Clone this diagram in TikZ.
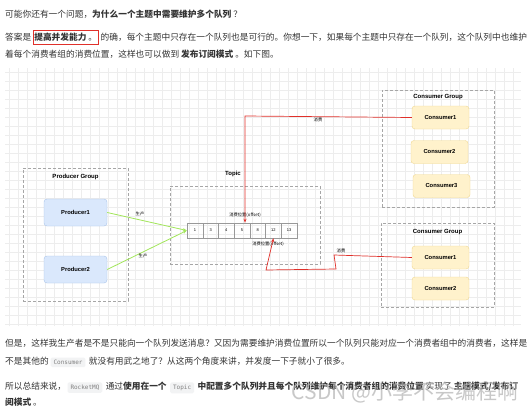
\documentclass[tikz,border=0pt]{standalone}
\usepackage{fontspec}
\setmainfont{Liberation Sans}
\newfontfamily\cjk{Noto Sans CJK SC}
\newfontfamily\codefont{DejaVu Sans Mono}
\usepackage{xcolor}
\usetikzlibrary{arrows.meta,calc,positioning}

\definecolor{txtgray}{HTML}{333333}
\definecolor{prodfill}{HTML}{DAE8FC}
\definecolor{prodline}{HTML}{A9C4EB}
\definecolor{consfill}{HTML}{FFF2CC}
\definecolor{consline}{HTML}{F0D890}
\definecolor{msgred}{HTML}{E0302A}
\definecolor{prodgreen}{HTML}{A2E65A}
\definecolor{codebg}{HTML}{F2F3F4}

\tikzset{
  txt/.style={anchor=base west, inner sep=0pt, text=txtgray,
    font=\cjk\fontsize{8.7}{10}\selectfont},
  code/.style={anchor=base west, fill=codebg, rounded corners=1.5pt,
    inner xsep=3pt, inner ysep=2.5pt, text=gray,
    font=\codefont\fontsize{6}{7}\selectfont},
  group/.style={draw=gray!70, densely dashed, line width=0.4pt,
    inner sep=0pt},
  gtitle/.style={font=\bfseries\fontsize{6}{7}\selectfont, inner sep=0pt},
  prod/.style={draw=prodline, fill=prodfill, rounded corners=3pt,
    minimum width=63pt, minimum height=27pt,
    font=\bfseries\fontsize{5.8}{7}\selectfont},
  cons/.style={draw=consline, fill=consfill, rounded corners=3pt,
    minimum width=57pt, minimum height=23pt,
    font=\bfseries\fontsize{5.8}{7}\selectfont},
  cell/.style={draw=gray!80, minimum width=15.7pt, minimum height=15pt,
    inner sep=0pt, font=\fontsize{4}{5}\selectfont},
  small/.style={font=\cjk\fontsize{4.3}{5}\selectfont, inner sep=0.5pt},
}

\begin{document}
\begin{tikzpicture}[x=1pt, y=-1pt]
    \useasboundingbox (0,0) rectangle (530,412);
    \fill [white] (0,0) rectangle (530,412);

    % text above
    \node [txt] (q1) at (5,17.5) {可能你还有一个问题，\textbf{为什么一个主题中需要维护多个队列} ？};
    \node [txt] (a1) at (5,40.5) {答案是};
    \node [txt, draw=msgred, line width=0.6pt, inner xsep=1.5pt, inner ysep=3pt]
        (a2) at ([xshift=1pt]a1.base east) {\textbf{提高并发能力} 。};
    \node [txt] (a3) at ([xshift=1.5pt]a2.base east)
        {的确，每个主题中只存在一个队列也是可行的。你想一下，如果每个主题中只存在一个队列，这个队列中也维护};
    \node [txt] (a4) at (5,57.5) {着每个消费者组的消费位置，这样也可以做到 \textbf{发布订阅模式} 。如下图。};

    % grid
    \draw [gray!14, step=9pt] (5,68) grid (521,326);

    % Producer Group
    \node [group, minimum width=105pt, minimum height=133pt] (pgroup) at (75.5,234.5) {};
    \node [gtitle, below] (ptitle) at ([yshift=-6pt]pgroup.north) {Producer Group};
    \node [prod] (p1) at (75.5,212.5) {Producer1};
    \node [prod] (p2) at (75.5,269.5) {Producer2};

    % Topic
    \node [group, minimum width=150pt, minimum height=78pt] (topic) at (245,225) {};
    \node [gtitle] (ttitle) at (233,174) {Topic};
    \foreach \v [count=\i from 0] in {1,3,4,5,8,12,13} {
        \node [cell] (c\i) at (194.9+15.71*\i, 230.5) {\v};
    }
    \node [small] (off1) at (245,215) {消费位置(offset)};
    \node [small] (off2) at (268,244) {消费位置(offset)};

    % Consumer Groups
    \node [group, minimum width=112pt, minimum height=117pt] (cgroup1) at (438,148.5) {};
    \node [gtitle, below] (ctitle1) at ([yshift=-4pt]cgroup1.north) {Consumer Group};
    \node [cons] (ca1) at (440.5,117.5) {Consumer1};
    \node [cons] (ca2) at (439.5,152) {Consumer2};
    \node [cons] (ca3) at (441.5,186) {Consumer3};

    \node [group, minimum width=113pt, minimum height=84pt] (cgroup2) at (437.5,265) {};
    \node [gtitle, below] (ctitle2) at ([yshift=-6pt]cgroup2.north) {Consumer Group};
    \node [cons] (cb1) at (440.5,257.5) {Consumer1};
    \node [cons] (cb2) at (440.5,288.5) {Consumer2};

    % produce
    \draw [prodgreen, line width=0.8pt, -{Stealth[length=4pt]}] (p1.east) -- (c0.west);
    \draw [prodgreen, line width=0.8pt, -{Stealth[length=4pt]}] (p2.east) -- (c0.west);
    \node [small] (g1) at (140,214) {生产};
    \node [small] (g2) at (143,256) {生产};

    % consume
    \coordinate (r1) at (245,116);
    \draw [msgred, line width=0.7pt, -{Stealth[length=4pt]}]
        (ca1.west) -- (r1) -- (r1 |- c3.north);
    \node [small] (m1) at (318,120) {消费};
    \coordinate (r2) at (334,255);
    \coordinate (r3) at (336,269);
    \coordinate (r4) at (266,270);
    \draw [msgred, line width=0.7pt, -{Stealth[length=4pt]}]
        (cb1.west) -- (r2) -- (r3) -- (r4) -- (c5.south);
    \node [small] (m2) at (341,251) {消费};

    % text below
    \node [txt] (b1) at (5,346.5)
        {但是，这样我生产者是不是只能向一个队列发送消息？又因为需要维护消费位置所以一个队列只能对应一个消费者组中的消费者，这样是};
    \node [txt] (b2) at (5,364.5) {不是其他的};
    \node [code] (b3) at ([xshift=1.5pt]b2.base east) {Consumer};
    \node [txt] (b4) at ([xshift=3pt]b3.base east) {就没有用武之地了？从这两个角度来讲，并发度一下子就小了很多。};

    \node [txt] (s1) at (5,389.5) {所以总结来说，};
    \node [code] (s2) at ([xshift=1pt]s1.base east) {RocketMQ};
    \node [txt] (s3) at ([xshift=3pt]s2.base east) {通过\textbf{使用在一个}};
    \node [code] (s4) at ([xshift=3pt]s3.base east) {Topic};
    \node [txt] (s5) at ([xshift=3pt]s4.base east)
        {\textbf{中配置多个队列并且每个队列维护每个消费者组的消费位置} 实现了 \textbf{主题模式/发布订}};
    \node [txt] (s6) at (5,405.5) {\textbf{阅模式} 。};

    % watermark
    \node [font=\cjk\fontsize{21}{24}\selectfont, text=gray!60, opacity=0.7] (wm) at (405,392)
        {CSDN @小李不会编程啊};
\end{tikzpicture}
\end{document}
